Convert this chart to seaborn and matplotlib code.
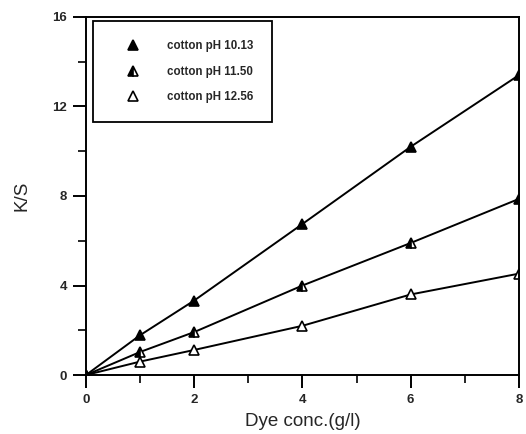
import numpy as np
import pandas as pd
import matplotlib
matplotlib.use("Agg")
import matplotlib.pyplot as plt
from matplotlib.lines import Line2D
from matplotlib.ticker import MultipleLocator
import seaborn as sns

# Dye concentration (g/l) and measured colour strength K/S
dye_conc = [0, 1, 2, 4, 6, 8]
ks_ph_1013 = [0.0, 1.78, 3.33, 6.75, 10.2, 13.4]
ks_ph_1150 = [0.0, 1.03, 1.92, 4.0, 5.9, 7.87]
ks_ph_1256 = [0.0, 0.60, 1.12, 2.2, 3.6, 4.53]
series_labels = ["cotton pH 10.13", "cotton pH 11.50", "cotton pH 12.56"]
x_ticks = [0, 2, 4, 6, 8]
y_ticks = [0, 4, 8, 12, 16]

sns.set_theme(style="ticks")
plt.rcParams["font.family"] = ["Liberation Sans", "DejaVu Sans"]

fig = plt.figure(figsize=(5.26, 4.34), dpi=100)
ax = fig.add_axes([0.1635, 0.1359, 0.823, 0.825])

marker_styles = [
    dict(markerfacecolor="black", fillstyle="full"),
    dict(markerfacecolor="black", markerfacecoloralt="white", fillstyle="left"),
    dict(markerfacecolor="white", fillstyle="full"),
]

for values, style in zip([ks_ph_1013, ks_ph_1150, ks_ph_1256], marker_styles):
    df = pd.DataFrame({"conc": dye_conc, "ks": values})
    sns.lineplot(data=df, x="conc", y="ks", ax=ax, color="black",
                 linewidth=1.4, marker="^", markersize=7.5,
                 markeredgecolor="black", markeredgewidth=1.2,
                 **style)

ax.set_xlim(0, 8)
ax.set_ylim(0, 16)
ax.set_xticks(x_ticks)
ax.set_yticks(y_ticks)
ax.xaxis.set_minor_locator(MultipleLocator(1))
ax.yaxis.set_minor_locator(MultipleLocator(2))
ax.tick_params(which="major", direction="out", length=9.5, width=1.4,
               color="black", labelsize=9.5, pad=4)
ax.tick_params(which="minor", direction="out", length=5.5, width=1.2,
               color="black")
for lab in ax.get_xticklabels() + ax.get_yticklabels():
    lab.set_fontweight("bold")

for side in ["left", "bottom", "top", "right"]:
    ax.spines[side].set_visible(True)
    ax.spines[side].set_linewidth(1.4)
    ax.spines[side].set_color("black")

ax.set_xlabel("Dye conc.(g/l)", fontsize=13.5)
ax.set_ylabel("K/S", fontsize=13.5)
ax.xaxis.set_label_coords(0.5, -0.105)
ax.yaxis.set_label_coords(-0.128, 0.5)

handles = [Line2D([], [], linestyle="none", marker="^", markersize=7.5,
                  color="black", markeredgecolor="black",
                  markeredgewidth=1.2, **style)
           for style in marker_styles]
leg = ax.legend(handles, series_labels, loc="upper left",
                bbox_to_anchor=(0.016, 0.988), frameon=True, fancybox=False,
                prop={"size": 8.3, "weight": "bold"}, handlelength=3.7,
                handletextpad=1.1, borderpad=1.6, labelspacing=1.2,
                borderaxespad=0)
leg.get_frame().set_edgecolor("black")
leg.get_frame().set_linewidth(1.3)
leg.get_frame().set_facecolor("white")
leg.get_frame().set_alpha(1)

fig.savefig("out.png", dpi=100)
